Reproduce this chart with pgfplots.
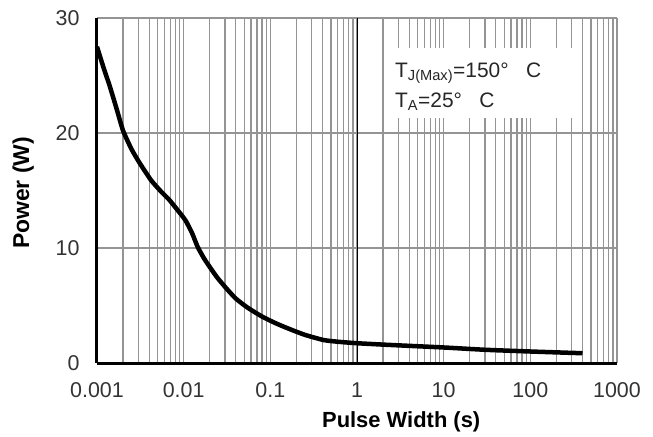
\documentclass[border=0pt]{standalone}
\usepackage{pgfplots}
\pgfplotsset{compat=1.18}
\usepackage{fontspec}
\setmainfont{Liberation Sans}
\begin{document}
\begin{tikzpicture}
\path[use as bounding box] (-97bp,-74bp) rectangle (556bp,363bp);
\begin{axis}[
  scale only axis, width=520bp, height=345bp,
  xmode=log, log basis x=10,
  xmin=0.001, xmax=1000, ymin=0, ymax=30,
  xtick={0.001,0.01,0.1,1,10,100,1000},
  xticklabels={0.001,0.01,0.1,1,10,100,1000},
  minor xtick={0.002,0.003,0.004,0.005,0.006,0.007,0.008,0.009,
               0.02,0.03,0.04,0.05,0.06,0.07,0.08,0.09,
               0.2,0.3,0.4,0.5,0.6,0.7,0.8,0.9,
               2,3,4,5,6,7,8,9,
               20,30,40,50,60,70,80,90,
               200,300,400,500,600,700,800,900},
  ytick={0,10,20,30},
  yticklabels={0,10,20,30},
  xmajorgrids=true, xminorgrids=true, ymajorgrids=true,
  major tick length=0pt, minor tick length=0pt,
  axis x line*=bottom, axis y line*=left,
  axis line style={line width=3bp, black, -},
  grid style={line width=1.3bp, black!42},
  minor grid style={line width=1.3bp, black!42},
  major grid style={line width=1.3bp, black!42},
  extra x ticks={1}, extra x tick labels={},
  extra x tick style={grid style={line width=0.8bp, black}, major grid style={line width=0.8bp, black}},
  /pgf/number format/assume math mode=true,
  tick label style={font=\fontsize{21.5}{26}\selectfont, text=black!80},
  xticklabel style={yshift=-16bp},
  yticklabel style={xshift=-14bp},
  xlabel={Pulse Width (s)},
  ylabel={Power (W)},
  label style={font=\bfseries\fontsize{22}{26}\selectfont},
  xlabel style={at={(axis description cs:0.585,-0.188)}, anchor=base},
  ylabel style={at={(axis description cs:-0.142,0.493)}, anchor=center, rotate=0},
  ylabel style={font=\bfseries\fontsize{23}{26}\selectfont},
  clip=false,
]
\addplot[black, line width=4.5bp, smooth, tension=0.35] coordinates {
(0.001,27.5) (0.0012,25.6) (0.0014,24.1) (0.0017,22.0) (0.002,20.2) (0.0025,18.6) (0.0031,17.4)
(0.0042,15.9) (0.0055,14.9) (0.0068,14.2) (0.0085,13.3) (0.0105,12.4) (0.0125,11.3)
(0.0145,10.1) (0.0175,9.0) (0.024,7.5) (0.031,6.5) (0.04,5.6) (0.055,4.8)
(0.082,4.0) (0.12,3.4) (0.167,2.95) (0.25,2.45) (0.41,2.0) (0.6,1.85) (1,1.72) (2.4,1.57) (10,1.35) (30,1.15) (100,1.0) (400,0.85)
};
\fill[white] (rel axis cs:0.565,0.913) rectangle (rel axis cs:0.913,0.710);
\node[anchor=base west, align=left, inner sep=0pt, font=\fontsize{21}{30}\selectfont, text=black!85]
  at (rel axis cs:0.573,0.742) {T\textsubscript{J(Max)}=150°\ \ \ C\\T\textsubscript{A}=25°\ \ \ C};
\end{axis}
\end{tikzpicture}
\end{document}
